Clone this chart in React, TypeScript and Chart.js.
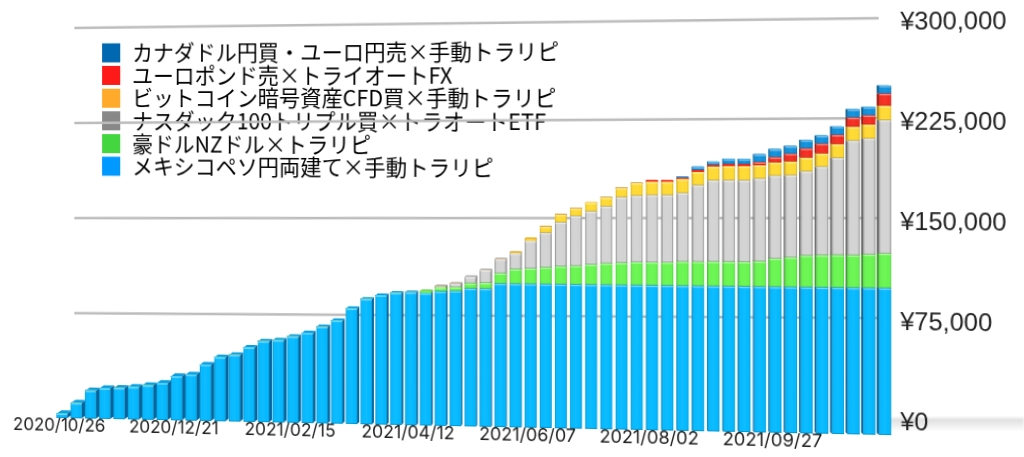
import React, { useEffect, useRef } from "react";
import { Chart, registerables } from "chart.js";

Chart.register(...registerables);

const categories = [
  "2020/10/26","2020/11/02","2020/11/09","2020/11/16","2020/11/23","2020/11/30","2020/12/07","2020/12/14",
  "2020/12/21","2020/12/28","2021/01/04","2021/01/11","2021/01/18","2021/01/25","2021/02/01","2021/02/08",
  "2021/02/15","2021/02/22","2021/03/01","2021/03/08","2021/03/15","2021/03/22","2021/03/29","2021/04/05",
  "2021/04/12","2021/04/19","2021/04/26","2021/05/03","2021/05/10","2021/05/17","2021/05/24","2021/05/31",
  "2021/06/07","2021/06/14","2021/06/21","2021/06/28","2021/07/05","2021/07/12","2021/07/19","2021/07/26",
  "2021/08/02","2021/08/09","2021/08/16","2021/08/23","2021/08/30","2021/09/06","2021/09/13","2021/09/20",
  "2021/09/27","2021/10/04","2021/10/11","2021/10/18","2021/10/25","2021/11/01","2021/11/08","2021/11/15",
];

const mexicoPeso = [
  3500,12000,22000,24000,24500,25500,27000,29000,34500,36000,44000,50000,52000,58000,63000,64000,
  67000,70000,75000,80000,89500,97000,100000,102000,102500,102000,103500,104000,106000,106000,110000,110000,
  110000,110000,110000,110000,110000,110000,110000,110000,110000,110000,110000,110000,110000,110000,110000,110000,
  110000,110000,110000,110000,110000,110000,110000,110000,
];
const audNzd = [
  0,0,0,0,0,0,0,0,0,0,0,0,0,0,0,0,0,0,0,0,0,0,0,0,0,
  1500,3000,3000,4000,4500,8000,11300,12000,12800,13800,14300,15500,16500,17000,17700,17700,17700,18400,18400,
  18600,18600,18600,19200,21400,22400,23900,24300,24500,24500,25200,26000,
];
const nasdaq = [
  0,0,0,0,0,0,0,0,0,0,0,0,0,0,0,0,0,0,0,0,0,0,0,0,0,0,
  1000,2600,5000,9800,10800,12000,21000,26500,33600,38000,40500,43300,50000,50500,51000,51000,52000,58000,
  61600,61700,61700,62500,62500,62000,63500,66500,73000,86000,87000,100000,
];
const bitcoin = [
  0,0,0,0,0,0,0,0,0,0,0,0,0,0,0,0,0,0,0,0,0,0,0,0,0,0,0,0,0,0,0,
  800,1800,4800,6000,6000,6600,6900,7000,9600,10100,10100,10600,10000,10300,10500,10500,10000,10000,10200,10200,
  10000,10400,10400,10400,10700,
];
const eurGbp = [
  0,0,0,0,0,0,0,0,0,0,0,0,0,0,0,0,0,0,0,0,0,0,0,0,0,0,0,0,0,0,0,0,0,0,0,0,0,0,0,0,
  1300,1300,1000,1500,1300,1800,1800,2500,4000,6000,7000,7400,7000,7000,7000,9200,
];
const cadEur = [
  0,0,0,0,0,0,0,0,0,0,0,0,0,0,0,0,0,0,0,0,0,0,0,0,0,0,0,0,0,0,0,0,0,0,0,0,0,0,0,0,0,0,
  800,2500,2500,3800,3800,5800,6000,5700,6200,6000,6200,6200,6200,6000,
];

const seriesNames = [
  "メキシコペソ円両建て×手動トラリピ",
  "豪ドルNZドル×トラリピ",
  "ナスダック100トリプル買×トラオートETF",
  "ビットコイン暗号資産CFD買×手動トラリピ",
  "ユーロポンド売×トライオートFX",
  "カナダドル円買・ユーロ円売×手動トラリピ",
];
const seriesValues = [mexicoPeso, audNzd, nasdaq, bitcoin, eurGbp, cadEur];
const faceColors = ["#00b8ff", "#66f54d", "#d2d2d2", "#ffd92e", "#f4281c", "#0a8fdc"];
const sideColors = ["#08639a", "#3a9a2c", "#666666", "#b48c10", "#a0140d", "#075f96"];
const capColors = ["#0a9fe0", "#55d840", "#a8a8a8", "#e8b820", "#d82014", "#0878c0"];
const edgeAlpha = [0.2, 0.2, 0.45, 0.2, 0.2, 0.25];
const legendColors = ["#0099ff", "#44d63f", "#888888", "#ffaa2a", "#ff1a1a", "#0068b0"];
const yTickValues = [0, 75000, 150000, 225000, 300000];

const FONT_LATIN = '"Liberation Sans", Arial, sans-serif';
const FONT_DATES = 'Inter, "Liberation Sans", sans-serif';
const FONT_JP = '"Noto Sans CJK JP", "Liberation Sans", sans-serif';

function homography(src: number[][], dst: number[][]) {
  const A: number[][] = [];
  for (let i = 0; i < 4; i++) {
    const [x, y] = src[i];
    const [u, v] = dst[i];
    A.push([x, y, 1, 0, 0, 0, -u * x, -u * y, u]);
    A.push([0, 0, 0, x, y, 1, -v * x, -v * y, v]);
  }
  for (let c = 0; c < 8; c++) {
    let p = c;
    for (let r = c + 1; r < 8; r++) if (Math.abs(A[r][c]) > Math.abs(A[p][c])) p = r;
    [A[c], A[p]] = [A[p], A[c]];
    for (let r = 0; r < 8; r++) {
      if (r === c) continue;
      const f = A[r][c] / A[c][c];
      for (let k = c; k < 9; k++) A[r][k] -= f * A[c][k];
    }
  }
  const s = A.map((row, i) => row[8] / row[i]);
  return `matrix3d(${s[0]},${s[3]},0,${s[6]},${s[1]},${s[4]},0,${s[7]},0,0,1,0,${s[2]},${s[5]},0,1)`;
}

const perspective = homography(
  [[62, 38], [885, 38], [62, 418], [885, 418]],
  [[62, 38], [885, 35], [62, 418], [885, 435]]
);

function eachBar(chart: any, fn: (el: any, ds: number, i: number, top: boolean) => void) {
  seriesValues.forEach((values, ds) => {
    const meta = chart.getDatasetMeta(ds);
    meta.data.forEach((el: any, i: number) => {
      if (!values[i]) return;
      const top = !seriesValues.slice(ds + 1).some((s) => s[i]);
      fn(el, ds, i, top);
    });
  });
}

const depthPlugin = {
  id: "depth",
  afterLayout(chart: any) {
    const l = chart.legend;
    l.left = 102; l.right = 700; l.width = 598;
    l.top = 41.4; l.bottom = 300; l.height = 259;
  },
  beforeDatasetsDraw(chart: any) {
    const { ctx } = chart;
    const y = chart.scales.y;
    ctx.save();
    ctx.strokeStyle = "#bcbcbc";
    ctx.lineWidth = 2.4;
    yTickValues.slice(1).forEach((v) => {
      const p = y.getPixelForValue(v);
      ctx.beginPath();
      ctx.moveTo(75, p - 10);
      ctx.lineTo(879, p - 16);
      ctx.stroke();
    });
    eachBar(chart, (el, ds, _i, top) => {
      const hw = el.width / 2;
      const dx = 0.009 * (620 - el.x);
      const topY = Math.min(el.y, el.base);
      const dy = Math.max(0.5, Math.min(4, (topY - 130) * 0.012));
      const sx = dx > 0 ? el.x + hw : el.x - hw;
      ctx.fillStyle = sideColors[ds];
      ctx.beginPath();
      ctx.moveTo(sx, topY);
      ctx.lineTo(sx + dx, topY - dy);
      ctx.lineTo(sx + dx, el.base - dy);
      ctx.lineTo(sx, el.base);
      ctx.closePath();
      ctx.fill();
      if (top) {
        ctx.fillStyle = capColors[ds];
        ctx.beginPath();
        ctx.moveTo(el.x - hw, topY);
        ctx.lineTo(el.x + hw, topY);
        ctx.lineTo(el.x + hw + dx, topY - dy);
        ctx.lineTo(el.x - hw + dx, topY - dy);
        ctx.closePath();
        ctx.fill();
      }
    });
    ctx.restore();
  },
  afterDatasetsDraw(chart: any) {
    const { ctx } = chart;
    ctx.save();
    eachBar(chart, (el, ds) => {
      const hw = el.width / 2;
      const topY = Math.min(el.y, el.base);
      const h = Math.abs(el.base - el.y);
      const g = ctx.createLinearGradient(el.x - hw, 0, el.x + hw, 0);
      g.addColorStop(0, `rgba(0,0,0,${edgeAlpha[ds]})`);
      g.addColorStop(0.16, "rgba(255,255,255,0.02)");
      g.addColorStop(0.5, "rgba(255,255,255,0.06)");
      g.addColorStop(0.84, "rgba(255,255,255,0)");
      g.addColorStop(1, `rgba(0,0,0,${edgeAlpha[ds]})`);
      ctx.fillStyle = g;
      ctx.fillRect(el.x - hw, topY, el.width, h);
      if (h > 3) {
        ctx.fillStyle = "rgba(255,255,255,0.4)";
        ctx.fillRect(el.x - hw, topY, el.width, 1.5);
        ctx.fillStyle = "rgba(0,0,0,0.18)";
        ctx.fillRect(el.x - hw, topY + h - 1, el.width, 1);
      }
    });
    ctx.restore();
  },
};

export default function App() {
  const ref = useRef<HTMLCanvasElement>(null);
  useEffect(() => {
    const chart = new Chart(ref.current!, {
      type: "bar",
      data: {
        labels: categories,
        datasets: seriesNames.map((name, i) => ({
          label: name,
          data: seriesValues[i],
          backgroundColor: faceColors[i],
          borderWidth: 0,
          barThickness: 11,
          yAxisID: "y",
        })),
      },
      plugins: [depthPlugin],
      options: {
        responsive: false,
        animation: false,
        devicePixelRatio: 1,
        layout: { padding: { left: 54.5, top: 10, right: 0, bottom: 0 } },
        plugins: {
          title: { display: false },
          tooltip: { enabled: false },
          legend: {
            position: "chartArea",
            align: "start",
            reverse: true,
            labels: {
              boxWidth: 22,
              boxHeight: 22,
              padding: 0.6,
              color: "#222222",
              font: { family: FONT_JP, size: 21.7 },
              generateLabels: () =>
                seriesNames.map((text, i) => ({
                  text,
                  fillStyle: legendColors[i],
                  strokeStyle: "#ffffff",
                  lineWidth: 3,
                  hidden: false,
                  datasetIndex: i,
                })),
            },
          },
        },
        scales: {
          x: {
            stacked: true,
            grid: { display: false },
            border: { display: false },
            afterFit: (s: any) => { s.height = 39; },
            ticks: {
              autoSkip: false,
              maxRotation: 0,
              padding: -11,
              labelOffset: -3,
              color: "#222222",
              font: { family: FONT_DATES, size: 17.8 },
              callback: (_v: any, i: number) => (i % 8 === 0 ? categories[i] : ""),
            },
          },
          y: { stacked: true, display: false, min: 0, max: 322105 },
          yLabels: {
            type: "linear",
            position: "right",
            min: -9000,
            max: 312600,
            grid: { display: false },
            border: { display: false },
            afterBuildTicks: (s: any) => { s.ticks = yTickValues.map((value) => ({ value })); },
            afterFit: (s: any) => { s.width = 131.5; s.paddingTop = 0; s.paddingBottom = 0; },
            ticks: {
              padding: -1,
              color: "#222222",
              font: { family: FONT_LATIN, size: 24 },
              callback: (v: any) => "¥" + Number(v).toLocaleString("en-US"),
            },
          },
        },
      } as any,
    } as any);
    return () => chart.destroy();
  }, []);

  return (
    <div style={{ position: "fixed", left: 0, top: 0, width: 1024, height: 457, overflow: "hidden", background: "#fff" }}>
      <div
        style={{
          position: "absolute", left: 885, top: 418, width: 139, height: 13,
          background: "linear-gradient(to bottom, #dcdcdc, #f2f2f2 70%, #ffffff)",
          filter: "blur(1.5px)",
        }}
      />
      <canvas
        ref={ref}
        width={1024}
        height={457}
        style={{
          position: "absolute", left: 0, top: 0, width: 1024, height: 457,
          transformOrigin: "0 0", transform: perspective, filter: "blur(0.35px)",
        }}
      />
    </div>
  );
}
